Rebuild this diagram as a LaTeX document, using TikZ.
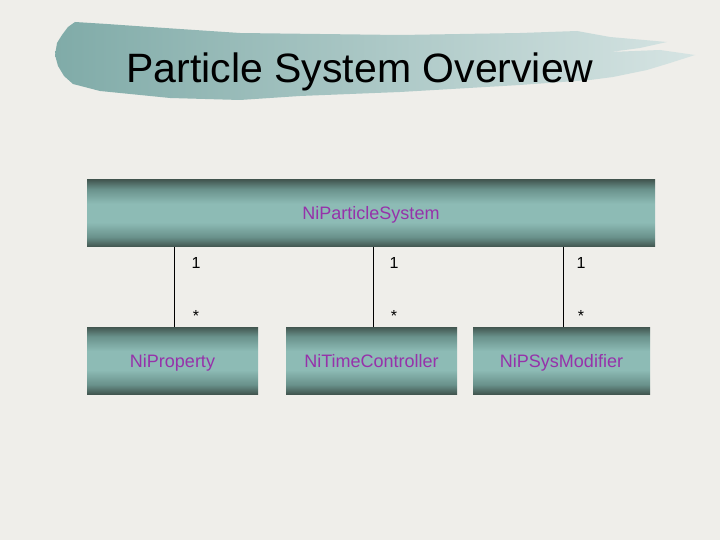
\documentclass[tikz,border=0pt]{standalone}
\usepackage{fontspec}
\setmainfont{Liberation Sans}
\definecolor{paper}{RGB}{239,238,234}
\definecolor{brushL}{RGB}{128,171,168}
\definecolor{brushR}{RGB}{214,228,227}
\definecolor{boxdark}{RGB}{66,86,80}
\definecolor{boxmid}{RGB}{105,145,139}
\definecolor{boxlight}{RGB}{141,187,181}
\definecolor{lbl}{RGB}{150,50,170}
\pgfdeclareverticalshading{tealbar}{100bp}{color(0bp)=(boxdark); color(25bp)=(boxdark); color(32bp)=(boxmid); color(43bp)=(boxlight); color(57bp)=(boxlight); color(68bp)=(boxmid); color(75bp)=(boxdark); color(100bp)=(boxdark)}
\tikzset{
  cls/.style={shading=tealbar, inner sep=0pt, minimum height=67pt, text=lbl,
    text height=16pt, text depth=2pt, font=\fontsize{18}{21}\selectfont},
  link/.style={draw=black, line width=0.8pt},
  mult/.style={inner sep=0pt, font=\fontsize{16}{19}\selectfont, text=black}
}
\begin{document}
\begin{tikzpicture}[x=1pt,y=-1pt]
\useasboundingbox (0,0) rectangle (720,540);
\fill[paper] (0,0) rectangle (720,540);
% brush stroke behind title
\shade[left color=brushL, right color=brushR, shading angle=90]
  (75,22) -- (107,24) -- (150,27) -- (240,33) -- (400,35) -- (520,33) -- (577,31)
  -- (610,37) -- (667,42) -- (640,48) -- (610,52) -- (660,50) -- (695,55)
  -- (670,63) -- (647,70) -- (613,77) -- (590,80) -- (520,85) -- (400,92)
  -- (300,96) -- (240,100) -- (170,98) -- (100,91) -- (73,84) -- (64,76)
  -- (58,66) -- (55,55) -- (57,43) -- (62,35) -- (68,27) -- cycle;
\node[anchor=base, inner sep=0pt, font=\fontsize{41}{50}\selectfont] (title) at (360,83) {Particle System Overview};
% classes
\node[cls, minimum width=568pt] (sys) at (371,213) {NiParticleSystem};
\node[cls, minimum width=171pt] (prop) at (172.5,360.5) {NiProperty};
\node[cls, minimum width=171pt] (ctrl) at (371.5,360.5) {NiTimeController};
\node[cls, minimum width=177pt] (mod) at (561.5,360.5) {NiPSysModifier};
% links
\draw[link] ([xshift=2pt]prop.north) -- ([xshift=2pt]prop.north |- sys.south);
\draw[link] ([xshift=1.5pt]ctrl.north) -- ([xshift=1.5pt]ctrl.north |- sys.south);
\draw[link] ([xshift=1.5pt]mod.north) -- ([xshift=1.5pt]mod.north |- sys.south);
% multiplicities
\node[mult] (m1a) at (196,263) {1};
\node[mult] (m1b) at (196,316) {*};
\node[mult] (m2a) at (394,263) {1};
\node[mult] (m2b) at (394,316) {*};
\node[mult] (m3a) at (581,263) {1};
\node[mult] (m3b) at (581,316) {*};
\end{tikzpicture}
\end{document}
